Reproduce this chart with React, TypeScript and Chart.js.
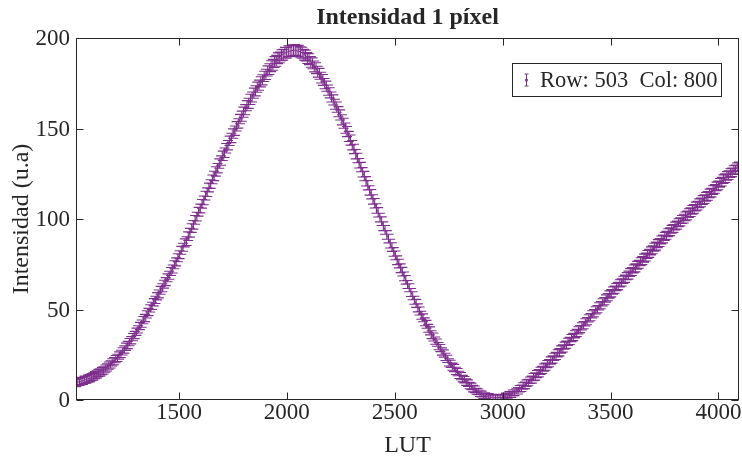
import React, { useEffect, useRef } from "react";
import { Chart, registerables } from "chart.js";
Chart.register(...registerables);

// LUT values (x)
const lut = [
  1023, 1031, 1039, 1047, 1055, 1063, 1071, 1079,
  1087, 1095, 1103, 1111, 1119, 1127, 1135, 1143,
  1151, 1159, 1167, 1175, 1183, 1191, 1199, 1207,
  1215, 1223, 1231, 1239, 1247, 1255, 1263, 1271,
  1279, 1287, 1295, 1303, 1311, 1319, 1327, 1335,
  1343, 1351, 1359, 1367, 1375, 1383, 1391, 1399,
  1407, 1415, 1423, 1431, 1439, 1447, 1455, 1463,
  1471, 1479, 1487, 1495, 1503, 1511, 1519, 1527,
  1535, 1543, 1551, 1559, 1567, 1575, 1583, 1591,
  1599, 1607, 1615, 1623, 1631, 1639, 1647, 1655,
  1663, 1671, 1679, 1687, 1695, 1703, 1711, 1719,
  1727, 1735, 1743, 1751, 1759, 1767, 1775, 1783,
  1791, 1799, 1807, 1815, 1823, 1831, 1839, 1847,
  1855, 1863, 1871, 1879, 1887, 1895, 1903, 1911,
  1919, 1927, 1935, 1943, 1951, 1959, 1967, 1975,
  1983, 1991, 1999, 2007, 2015, 2023, 2031, 2039,
  2047, 2055, 2063, 2071, 2079, 2087, 2095, 2103,
  2111, 2119, 2127, 2135, 2143, 2151, 2159, 2167,
  2175, 2183, 2191, 2199, 2207, 2215, 2223, 2231,
  2239, 2247, 2255, 2263, 2271, 2279, 2287, 2295,
  2303, 2311, 2319, 2327, 2335, 2343, 2351, 2359,
  2367, 2375, 2383, 2391, 2399, 2407, 2415, 2423,
  2431, 2439, 2447, 2455, 2463, 2471, 2479, 2487,
  2495, 2503, 2511, 2519, 2527, 2535, 2543, 2551,
  2559, 2567, 2575, 2583, 2591, 2599, 2607, 2615,
  2623, 2631, 2639, 2647, 2655, 2663, 2671, 2679,
  2687, 2695, 2703, 2711, 2719, 2727, 2735, 2743,
  2751, 2759, 2767, 2775, 2783, 2791, 2799, 2807,
  2815, 2823, 2831, 2839, 2847, 2855, 2863, 2871,
  2879, 2887, 2895, 2903, 2911, 2919, 2927, 2935,
  2943, 2951, 2959, 2967, 2975, 2983, 2991, 2999,
  3007, 3015, 3023, 3031, 3039, 3047, 3055, 3063,
  3071, 3079, 3087, 3095, 3103, 3111, 3119, 3127,
  3135, 3143, 3151, 3159, 3167, 3175, 3183, 3191,
  3199, 3207, 3215, 3223, 3231, 3239, 3247, 3255,
  3263, 3271, 3279, 3287, 3295, 3303, 3311, 3319,
  3327, 3335, 3343, 3351, 3359, 3367, 3375, 3383,
  3391, 3399, 3407, 3415, 3423, 3431, 3439, 3447,
  3455, 3463, 3471, 3479, 3487, 3495, 3503, 3511,
  3519, 3527, 3535, 3543, 3551, 3559, 3567, 3575,
  3583, 3591, 3599, 3607, 3615, 3623, 3631, 3639,
  3647, 3655, 3663, 3671, 3679, 3687, 3695, 3703,
  3711, 3719, 3727, 3735, 3743, 3751, 3759, 3767,
  3775, 3783, 3791, 3799, 3807, 3815, 3823, 3831,
  3839, 3847, 3855, 3863, 3871, 3879, 3887, 3895,
  3903, 3911, 3919, 3927, 3935, 3943, 3951, 3959,
  3967, 3975, 3983, 3991, 3999, 4007, 4015, 4023,
  4031, 4039, 4047, 4055, 4063, 4071, 4079, 4087,
  4095,
];

// Intensity (u.a) per LUT value
const intensity = [
  9.4, 9.9, 10.0, 10.5, 10.6, 11.2, 11.3, 11.8,
  12.0, 12.6, 13.0, 13.7, 14.1, 14.9, 15.2, 16.0,
  16.4, 17.3, 18.0, 19.0, 19.7, 20.8, 21.5, 22.6,
  23.3, 24.6, 25.5, 26.9, 27.9, 29.4, 30.4, 32.0,
  33.0, 34.7, 35.9, 37.7, 39.0, 40.9, 42.2, 44.1,
  45.3, 47.3, 48.6, 50.6, 52.0, 54.0, 55.3, 57.3,
  58.6, 60.6, 62.0, 64.0, 65.4, 67.5, 68.9, 71.0,
  72.4, 74.7, 76.3, 78.6, 80.3, 82.7, 84.4, 86.8,
  87.8, 90.5, 92.4, 95.0, 96.8, 99.5, 101.3, 104.0,
  105.8, 108.4, 110.3, 112.9, 114.8, 117.4, 119.3, 121.9,
  123.8, 126.3, 128.1, 130.6, 132.3, 134.9, 136.6, 139.1,
  140.8, 143.2, 144.8, 147.2, 148.8, 151.2, 152.8, 155.2,
  156.8, 159.0, 160.4, 162.6, 163.9, 166.1, 167.4, 169.5,
  170.8, 172.8, 173.9, 175.8, 176.9, 178.8, 179.9, 181.8,
  182.8, 184.4, 185.2, 186.7, 187.4, 188.8, 189.3, 190.5,
  190.8, 191.8, 191.9, 192.7, 192.6, 193.2, 193.0, 193.4,
  192.8, 192.9, 192.1, 191.9, 190.8, 190.3, 188.9, 188.3,
  186.8, 186.0, 184.3, 183.3, 181.4, 180.2, 178.1, 176.8,
  174.8, 173.4, 171.2, 169.7, 167.4, 165.8, 163.4, 161.8,
  159.3, 157.5, 154.8, 152.9, 150.2, 148.3, 145.6, 143.6,
  140.8, 138.7, 135.8, 133.7, 130.8, 128.7, 125.8, 123.7,
  120.8, 118.7, 115.8, 113.7, 110.8, 108.7, 105.8, 103.7,
  100.8, 98.8, 96.0, 94.0, 91.2, 89.2, 86.4, 84.5,
  81.8, 79.9, 77.2, 75.4, 72.8, 70.9, 68.3, 66.4,
  63.8, 62.0, 59.4, 57.6, 55.1, 53.4, 50.9, 49.2,
  46.8, 45.4, 43.2, 41.8, 39.6, 38.2, 36.1, 34.8,
  32.8, 31.7, 29.8, 28.7, 26.8, 25.7, 23.8, 22.7,
  20.8, 20.0, 18.4, 17.7, 16.1, 15.4, 13.9, 13.2,
  11.8, 11.2, 9.9, 9.3, 8.0, 7.5, 6.3, 5.9,
  4.8, 4.5, 3.5, 3.3, 2.4, 2.4, 1.7, 1.9,
  1.3, 1.6, 1.1, 1.5, 1.1, 1.5, 1.2, 1.7,
  1.5, 2.2, 2.2, 3.0, 3.0, 3.9, 4.0, 4.9,
  5.1, 6.2, 6.5, 7.7, 8.1, 9.3, 9.7, 10.9,
  11.3, 12.6, 13.0, 14.3, 14.8, 16.1, 16.6, 17.9,
  18.4, 19.8, 20.4, 21.8, 22.4, 23.8, 24.4, 25.8,
  26.4, 27.9, 28.5, 30.0, 30.6, 32.1, 32.7, 34.2,
  34.8, 36.3, 37.0, 38.5, 39.2, 40.7, 41.4, 42.9,
  43.6, 45.1, 45.8, 47.3, 48.0, 49.5, 50.2, 51.7,
  52.4, 53.9, 54.6, 56.1, 56.8, 58.3, 59.0, 60.4,
  61.0, 62.4, 63.0, 64.4, 65.0, 66.4, 67.0, 68.4,
  69.0, 70.4, 71.0, 72.4, 73.0, 74.4, 75.0, 76.4,
  77.0, 78.4, 79.0, 80.4, 81.0, 82.4, 83.0, 84.4,
  85.0, 86.4, 87.0, 88.4, 89.0, 90.4, 91.0, 92.4,
  93.0, 94.3, 94.8, 96.1, 96.6, 97.9, 98.4, 99.7,
  100.2, 101.5, 102.0, 103.3, 103.8, 105.1, 105.6, 106.9,
  107.4, 108.7, 109.2, 110.5, 111.0, 112.3, 112.8, 114.1,
  114.6, 116.0, 116.6, 118.0, 118.6, 120.0, 120.6, 122.0,
  122.6, 123.8, 124.2, 125.4, 125.8, 127.0, 127.4, 128.6,
  129.0,
];

// Error (half-length of bars), one value per group of 8 consecutive points
const errorByGroup = [
  2.0, 2.0, 2.0, 2.0, 2.0, 2.0, 2.2, 2.2,
  2.4, 2.4, 2.6, 2.6, 2.8, 2.8, 3.0, 3.0,
  3.0, 3.0, 2.8, 2.8, 2.6, 2.6, 2.4, 2.4,
  2.2, 2.2, 2.0, 2.0, 1.8, 1.6, 1.5, 1.6,
  1.8, 2.0, 2.0, 2.0, 2.0, 2.0, 2.0, 2.0,
  2.2, 2.2, 2.2, 2.2, 2.4, 2.4, 2.4, 2.4,
  2.4,
];

const xTicks = [1500, 2000, 2500, 3000, 3500, 4000];
const yTicks = [0, 50, 100, 150, 200];
const xRange = [1023, 4095];
const yRange = [0, 200];

const titleText = "Intensidad 1 píxel";
const xLabel = "LUT";
const yLabel = "Intensidad (u.a)";
const legendText = "Row: 503  Col: 800";

const PURPLE = "#7E2F8E";
const AXIS = "#262626";
const FONT = '"Liberation Serif", "Times New Roman", serif';

const decorPlugin = {
  id: "matlabDecor",
  afterDatasetsDraw(chart: any) {
    const ctx = chart.ctx;
    const xs = chart.scales.x;
    const ys = chart.scales.y;
    const a = chart.chartArea;
    ctx.save();
    ctx.beginPath();
    ctx.rect(a.left, a.top, a.right - a.left, a.bottom - a.top);
    ctx.clip();
    ctx.strokeStyle = PURPLE;
    ctx.lineWidth = 1.1;
    const cap = 5;
    ctx.beginPath();
    for (let i = 0; i < lut.length; i++) {
      const e = errorByGroup[Math.floor(i / 8)];
      const x = xs.getPixelForValue(lut[i]);
      const yt = ys.getPixelForValue(intensity[i] + e);
      const yb = ys.getPixelForValue(intensity[i] - e);
      ctx.moveTo(x, yt);
      ctx.lineTo(x, yb);
      ctx.moveTo(x - cap, yt);
      ctx.lineTo(x + cap, yt);
      ctx.moveTo(x - cap, yb);
      ctx.lineTo(x + cap, yb);
    }
    ctx.stroke();
    ctx.restore();
  },
  afterDraw(chart: any) {
    const ctx = chart.ctx;
    const xs = chart.scales.x;
    const ys = chart.scales.y;
    const a = chart.chartArea;
    ctx.save();
    // axes box
    ctx.strokeStyle = AXIS;
    ctx.lineWidth = 1;
    const L = Math.round(a.left) + 0.5;
    const R = Math.round(a.right) - 0.5;
    const T = Math.round(a.top) + 0.5;
    const B = Math.round(a.bottom) - 0.5;
    ctx.strokeRect(L, T, R - L, B - T);
    const tl = 7;
    ctx.beginPath();
    xTicks.forEach((v) => {
      const x = Math.round(xs.getPixelForValue(v)) + 0.5;
      ctx.moveTo(x, B);
      ctx.lineTo(x, B - tl);
      ctx.moveTo(x, T);
      ctx.lineTo(x, T + tl);
    });
    yTicks.forEach((v) => {
      const y = Math.round(ys.getPixelForValue(v)) + 0.5;
      ctx.moveTo(L, y);
      ctx.lineTo(L + tl, y);
      ctx.moveTo(R, y);
      ctx.lineTo(R - tl, y);
    });
    ctx.stroke();

    // tick labels
    ctx.fillStyle = AXIS;
    ctx.font = `23px ${FONT}`;
    ctx.textAlign = "center";
    ctx.textBaseline = "middle";
    xTicks.forEach((v) => {
      ctx.fillText(String(v), xs.getPixelForValue(v), a.bottom + 13);
    });
    ctx.textAlign = "right";
    yTicks.forEach((v) => {
      ctx.fillText(String(v), a.left - 6, ys.getPixelForValue(v) + 1);
    });

    // axis labels
    ctx.font = `24px ${FONT}`;
    ctx.textAlign = "center";
    ctx.fillText(xLabel, (a.left + a.right) / 2, a.bottom + 46);
    ctx.save();
    ctx.translate(22, (a.top + a.bottom) / 2);
    ctx.rotate(-Math.PI / 2);
    ctx.fillText(yLabel, 0, 0);
    ctx.restore();

    // title
    ctx.font = `bold 24px ${FONT}`;
    ctx.fillText(titleText, (a.left + a.right) / 2, 18);

    // legend
    const bx = 512.5, by = 63.5, bw = 209, bh = 33;
    ctx.fillStyle = "#ffffff";
    ctx.fillRect(bx, by, bw, bh);
    ctx.strokeStyle = AXIS;
    ctx.lineWidth = 1;
    ctx.strokeRect(bx, by, bw, bh);
    const ix = 526.5, icy = by + bh / 2;
    ctx.strokeStyle = PURPLE;
    ctx.beginPath();
    ctx.moveTo(ix, icy - 6);
    ctx.lineTo(ix, icy + 6);
    ctx.moveTo(ix - 2, icy - 6);
    ctx.lineTo(ix + 2, icy - 6);
    ctx.moveTo(ix - 2, icy + 6);
    ctx.lineTo(ix + 2, icy + 6);
    ctx.stroke();
    ctx.fillStyle = PURPLE;
    ctx.beginPath();
    ctx.arc(ix, icy, 1.5, 0, Math.PI * 2);
    ctx.fill();
    ctx.fillStyle = AXIS;
    ctx.font = `22.5px ${FONT}`;
    ctx.textAlign = "left";
    ctx.fillText(legendText, 540, icy + 1);
    ctx.restore();
  },
};

export default function App() {
  const ref = useRef<HTMLCanvasElement | null>(null);
  useEffect(() => {
    if (!ref.current) return;
    const chart = new Chart(ref.current, {
      type: "line",
      data: {
        datasets: [
          {
            label: legendText,
            data: lut.map((x, i) => ({ x, y: intensity[i] })),
            borderColor: PURPLE,
            borderWidth: 1,
            pointRadius: 0,
            fill: false,
            tension: 0,
          },
        ],
      },
      options: {
        responsive: false,
        devicePixelRatio: 1,
        animation: false,
        layout: { padding: { top: 38, right: 3, left: 0, bottom: 0 } },
        plugins: {
          legend: { display: false },
          tooltip: { enabled: false },
          title: { display: false },
        },
        scales: {
          x: {
            type: "linear",
            min: xRange[0],
            max: xRange[1],
            ticks: { display: false },
            grid: { display: false },
            border: { display: false },
            afterFit: (s: any) => {
              s.height = 61;
            },
          },
          y: {
            type: "linear",
            min: yRange[0],
            max: yRange[1],
            ticks: { display: false },
            grid: { display: false },
            border: { display: false },
            afterFit: (s: any) => {
              s.width = 76;
            },
          },
        },
      },
      plugins: [decorPlugin],
    });
    return () => chart.destroy();
  }, []);
  return (
    <div style={{ position: "absolute", left: 0, top: 0, width: 742, height: 461, background: "#fff" }}>
      <canvas ref={ref} width={742} height={461} style={{ display: "block" }} />
    </div>
  );
}
